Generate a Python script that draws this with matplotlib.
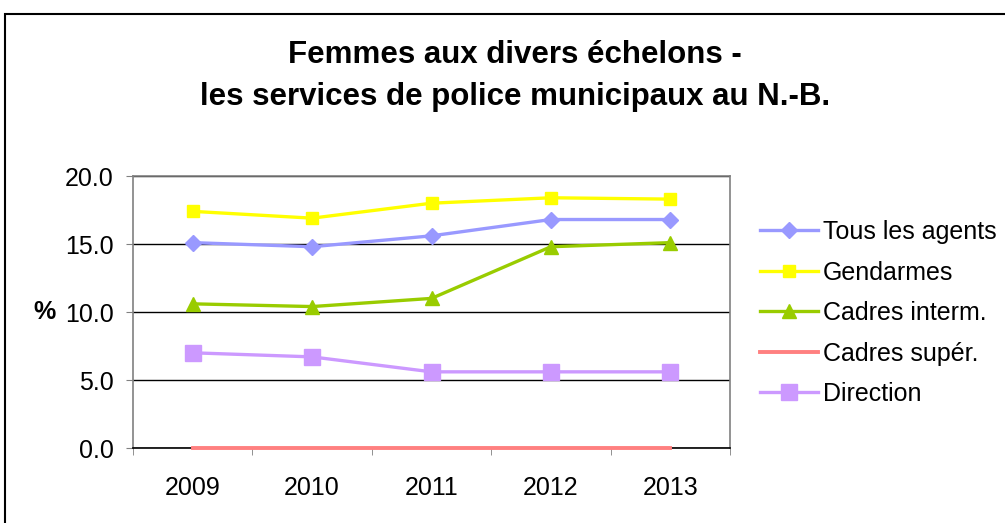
import matplotlib.pyplot as plt
from matplotlib.patches import Rectangle

plt.rcParams['font.family'] = ['Liberation Sans', 'DejaVu Sans']

# données
annees = ['2009', '2010', '2011', '2012', '2013']
tous_agents = [15.1, 14.8, 15.6, 16.8, 16.8]
gendarmes = [17.4, 16.9, 18.0, 18.4, 18.3]
cadres_interm = [10.6, 10.4, 11.0, 14.8, 15.1]
cadres_super = [0.0, 0.0, 0.0, 0.0, 0.0]
direction = [7.0, 6.7, 5.6, 5.6, 5.6]

fig = plt.figure(figsize=(10.05, 5.23), dpi=100)
ax = fig.add_axes([133 / 1005, 1 - 448 / 523, (730 - 133) / 1005, (448 - 176) / 523])

x = list(range(len(annees)))
ax.plot(x, tous_agents, color='#9999FF', lw=2.4, marker='D', ms=8, label='Tous les agents')
ax.plot(x, gendarmes, color='#FFFF00', lw=2.4, marker='s', ms=9, label='Gendarmes')
ax.plot(x, cadres_interm, color='#99CC00', lw=2.4, marker='^', ms=10, label='Cadres interm.')
ax.plot(x, cadres_super, color='#FF8080', lw=2.8, label='Cadres supér.', clip_on=False, zorder=5)
ax.plot(x, direction, color='#CC99FF', lw=2.4, marker='s', ms=11, label='Direction')

ax.set_xlim(-0.5, 4.5)
ax.set_ylim(0, 20)
ax.set_yticks([0, 5, 10, 15, 20])
ax.set_yticklabels(['0.0', '5.0', '10.0', '15.0', '20.0'], fontsize=18)
ax.set_xticks(x)
ax.set_xticklabels(annees, fontsize=18)
ax.set_xticks([i + 0.5 for i in range(-1, 5)], minor=True)
ax.tick_params(axis='x', which='major', length=0, pad=20)
ax.tick_params(axis='x', which='minor', length=5, color='#808080')
ax.tick_params(axis='y', length=5, color='#808080', pad=9)
ax.grid(axis='y', color='black', lw=1)
ax.set_axisbelow(True)
for s in ax.spines.values():
    s.set_color('#808080')
    s.set_linewidth(1.2)
ax.spines['bottom'].set_color('black')

ax.set_ylabel('%', fontsize=18, fontweight='bold', rotation=0, va='center', ha='center')
ax.yaxis.set_label_coords((45 - 133) / (730 - 133), 0.5)

fig.text(515 / 1005, 1 - 63 / 523, 'Femmes aux divers échelons -', ha='center', va='baseline',
         fontsize=22.5, fontweight='bold')
fig.text(515 / 1005, 1 - 105 / 523, 'les services de police municipaux au N.-B.', ha='center',
         va='baseline', fontsize=22.5, fontweight='bold')

leg = fig.legend(loc='upper left', bbox_to_anchor=(760 / 1005, 1 - 220 / 523), frameon=False,
                 fontsize=18, handlelength=2.3, handletextpad=0.2, labelspacing=0.66,
                 borderaxespad=0, borderpad=0)

# cadre extérieur
fig.patches.append(Rectangle((5 / 1005, -0.1), 1.2, 1 - 14 / 523 + 0.1, transform=fig.transFigure,
                             fill=False, edgecolor='black', lw=1.5, clip_on=False))

fig.savefig('out.png', dpi=100)
